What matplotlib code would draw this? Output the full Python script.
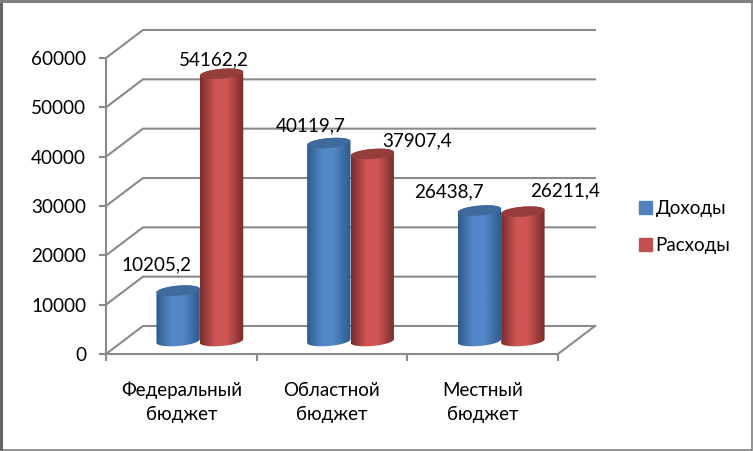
import numpy as np
import matplotlib
matplotlib.use('Agg')
import matplotlib.pyplot as plt
from matplotlib.colors import LinearSegmentedColormap
from matplotlib.patches import Polygon, Rectangle

categories = ['Федеральный\nбюджет', 'Областной\nбюджет', 'Местный\nбюджет']
income = [10205.2, 40119.7, 26438.7]
expenses = [54162.2, 37907.4, 26211.4]
y_ticks = [0, 10000, 20000, 30000, 40000, 50000, 60000]

plt.rcParams['font.family'] = ['Lato', 'Open Sans', 'DejaVu Sans']
W, H = 753, 451
GRID = '#8a8a8a'

fig = plt.figure(figsize=(W / 100, H / 100), dpi=100, facecolor='white')
# outer frame: heavier on the left and top
fig.add_artist(Rectangle((1 / W, 1.5 / H), 750.5 / W, 448 / H, transform=fig.transFigure,
                         fill=False, edgecolor='#808080', linewidth=1.2))
fig.add_artist(plt.Line2D([1 / W, 1 / W], [0, 1], color='#666666', lw=2.2))
fig.add_artist(plt.Line2D([0, 1 - 1.5 / W], [1 - 1 / H, 1 - 1 / H], color='#808080', lw=2.2))
ax = fig.add_axes([106 / W, 1 - 354 / H, 452 / W, 296 / H])
ax.set_xlim(0, 3)
ax.set_ylim(0, 60000)

# pixels to data units
px_x = 3 / 452
px_y = 60000 / 296
depth_x, depth_y = 37 * px_x, 28 * px_y

# walls and floor of the 3d box
for v in y_ticks:
    ax.plot([0, depth_x, 3 + depth_x], [v, v + depth_y, v + depth_y],
            color=GRID, lw=1.5, clip_on=False, solid_joinstyle='miter', zorder=1)
ax.plot([3, 3 + depth_x], [0, depth_y], color=GRID, lw=1.5, clip_on=False, zorder=1)

for side in ['top', 'right']:
    ax.spines[side].set_visible(False)
for side in ['left', 'bottom']:
    ax.spines[side].set_color(GRID)
    ax.spines[side].set_linewidth(1.5)
    ax.spines[side].set_zorder(1)

ax.set_yticks(y_ticks)
ax.set_xticks([0, 1, 2, 3])
ax.set_xticklabels([])
ax.tick_params(axis='y', length=5, width=1.5, color=GRID, labelsize=13.6, pad=9.4)
ax.tick_params(axis='x', length=5, width=1.5, color=GRID)
for i, name in enumerate(categories):
    ax.annotate(name, (i + 0.5, 0), xytext=(0, -20), textcoords='offset points',
                ha='center', va='top', fontsize=13.5, linespacing=1.47, annotation_clip=False)


def cylinder(xc, value, edge, mid, top):
    half = 21.7 * px_x
    rise = 5 * px_y
    tilt = 1.8 * px_y
    base = 13 * px_y
    t = np.linspace(0, 2 * np.pi, 80)
    ex = xc + half * np.cos(t)
    ey = rise * np.sin(t) + tilt * np.cos(t)
    lower = t > np.pi
    body_x = np.r_[ex[lower], ex[~lower]]
    body_y = np.r_[base + ey[lower], base + value + ey[~lower]]
    cmap = LinearSegmentedColormap.from_list('c', [(0, edge), (0.35, mid), (0.6, mid), (1, edge)], N=128)
    body = Polygon(np.c_[body_x, body_y], closed=True, transform=ax.transData,
                   facecolor='none', edgecolor='none')
    ax.add_patch(body)
    im = ax.imshow(np.linspace(0, 1, 128)[None, :], cmap=cmap, aspect='auto', zorder=3,
                   extent=[xc - half, xc + half, base - rise * 2, base + value + rise * 2])
    im.set_clip_path(body)
    ax.fill(ex, base + value + ey, color=top, lw=0, zorder=3)


for i in range(3):
    x = i + 0.5 + 18.5 * px_x
    cylinder(x - 21.7 * px_x, income[i], '#2e5a8c', '#5388c8', '#3f6a9c')
    cylinder(x + 21.7 * px_x, expenses[i], '#762c2a', '#d05654', '#953d3b')
ax.set_xlim(0, 3)
ax.set_ylim(0, 60000)

# data labels, moved by hand like in the original
income_shift = [(-22, 26), (-18, 17), (-30, 19)]
expenses_shift = [(-8, 14), (45, 13), (42, 21)]
for i in range(3):
    x = i + 0.5 + 18.5 * px_x
    for xc, v, s in [(x - 21.7 * px_x, income[i], income_shift[i]),
                     (x + 21.7 * px_x, expenses[i], expenses_shift[i])]:
        ax.annotate(f'{v:.1f}'.replace('.', ','), (xc, v + 13 * px_y), xytext=(s[0] * 0.72, s[1] * 0.72),
                    textcoords='offset points', ha='center', va='center', fontsize=13.6,
                    annotation_clip=False, zorder=5)

handles = [Rectangle((0, 0), 1, 1, color='#4f81bd'), Rectangle((0, 0), 1, 1, color='#c0504d')]
fig.legend(handles, ['Доходы', 'Расходы'], loc='center left', bbox_to_anchor=(639 / W, 1 - 227 / H),
           frameon=False, fontsize=13.5, handlelength=0.68, handleheight=0.68,
           handletextpad=0.2, labelspacing=1.05, borderpad=0, borderaxespad=0)

fig.savefig('out.png', dpi=100)
